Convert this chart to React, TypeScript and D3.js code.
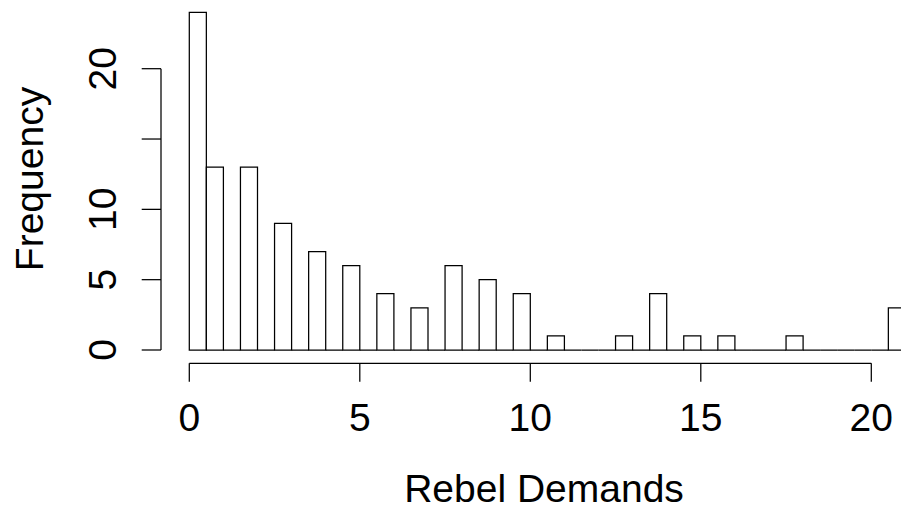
import * as d3 from 'd3'

// counts per integer demand value (0..21)
const demandValues = [0, 1, 2, 3, 4, 5, 6, 7, 8, 9, 10, 11, 12, 13, 14, 15, 16, 17, 18, 19, 20, 21]
const frequencies = [24, 13, 13, 9, 7, 6, 4, 3, 6, 5, 4, 1, 0, 1, 4, 1, 1, 0, 1, 0, 0, 3]

const xTicks = [0, 5, 10, 15, 20]
const yTicks = [0, 5, 10, 15, 20]
// R drops the "15" label because it would overlap its neighbours
const yTickLabels = ['0', '5', '10', '', '20']

const W = 901
const H = 513
const FONT = '"Liberation Sans", Arial, Helvetica, sans-serif'
const FS = 39

export default function App() {
  const x = d3.scaleLinear().domain([0, 20]).range([189.3, 871.3])
  const y = d3.scaleLinear().domain([0, 20]).range([350, 68.7])

  // half-unit bins, right-closed: [0,0.5], (0.5,1], (1,1.5], ...
  const maxV = d3.max(demandValues) as number
  const bins: { x0: number; x1: number; n: number }[] = []
  for (let i = 0; i < maxV * 2; i++) {
    const x0 = i / 2
    const x1 = (i + 1) / 2
    const idx = demandValues.indexOf(x1)
    let n = 0
    if (i === 0) n = frequencies[0]
    else if (idx >= 0) n = frequencies[idx]
    bins.push({ x0, x1, n })
  }

  // rect outline as a path so empty bins still draw along the baseline
  const binPath = (b: { x0: number; x1: number; n: number }) => {
    const p = d3.path()
    p.moveTo(x(b.x0), y(0))
    p.lineTo(x(b.x0), y(b.n))
    p.lineTo(x(b.x1), y(b.n))
    p.lineTo(x(b.x1), y(0))
    p.closePath()
    return p.toString()
  }

  const axisY = 363.3
  const axisX = 161
  const sw = 1.25

  return (
    <svg width={W} height={H} style={{ position: 'absolute', left: 0, top: 0, background: '#fff' }}>
      <g fill="#fff" stroke="#000" strokeWidth={sw} strokeLinejoin="miter">
        {bins.map((b, i) => (
          <path key={i} d={binPath(b)} />
        ))}
      </g>

      {/* x axis */}
      <g stroke="#000" strokeWidth={sw}>
        <line x1={x(xTicks[0])} x2={x(xTicks[xTicks.length - 1])} y1={axisY} y2={axisY} />
        {xTicks.map(t => (
          <line key={t} x1={x(t)} x2={x(t)} y1={axisY} y2={axisY + 18.4} />
        ))}
      </g>
      {xTicks.map(t => (
        <text key={t} x={x(t)} y={431} textAnchor="middle" fontFamily={FONT} fontSize={FS}>
          {t}
        </text>
      ))}

      {/* y axis */}
      <g stroke="#000" strokeWidth={sw}>
        <line x1={axisX} x2={axisX} y1={y(yTicks[0])} y2={y(yTicks[yTicks.length - 1])} />
        {yTicks.map(t => (
          <line key={t} x1={axisX - 19.3} x2={axisX} y1={y(t)} y2={y(t)} />
        ))}
      </g>
      {yTicks.map((t, i) => (
        <text
          key={t}
          transform={`translate(116,${y(t)}) rotate(-90)`}
          textAnchor="middle"
          fontFamily={FONT}
          fontSize={FS}
        >
          {yTickLabels[i]}
        </text>
      ))}

      <text x={544} y={502} textAnchor="middle" fontFamily={FONT} fontSize={FS}>
        Rebel Demands
      </text>
      <text transform="translate(43,179) rotate(-90)" textAnchor="middle" fontFamily={FONT} fontSize={FS}>
        Frequency
      </text>
    </svg>
  )
}
